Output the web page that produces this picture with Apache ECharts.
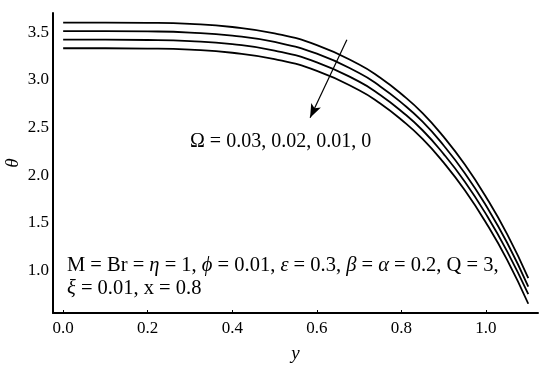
<!DOCTYPE html>
<html>
<head>
<meta charset="utf-8">
<script src="https://cdn.jsdelivr.net/npm/echarts@6/dist/echarts.min.js"></script>
<style>
  html, body { margin: 0; padding: 0; background: #fff; }
  #main { width: 550px; height: 368px; }
</style>
</head>
<body>
<div id="main"></div>
<script>
let mychart = echarts.init(document.getElementById('main'));

let yVals = [0, 0.1, 0.2, 0.3, 0.4, 0.5, 0.6, 0.7, 0.75, 0.8, 0.85, 0.9, 0.95, 1.0, 1.05, 1.1]

// theta for each Omega (top curve = 0.03)
let omega003 = [3.60, 3.60, 3.597, 3.585, 3.553, 3.486, 3.363, 3.16, 3.02, 2.85, 2.65, 2.40, 2.11, 1.77, 1.38, 0.92]
let omega002 = [3.51, 3.51, 3.507, 3.495, 3.463, 3.396, 3.273, 3.07, 2.93, 2.76, 2.56, 2.31, 2.02, 1.68, 1.29, 0.83]
let omega001 = [3.42, 3.42, 3.417, 3.405, 3.373, 3.306, 3.183, 2.98, 2.84, 2.67, 2.47, 2.22, 1.93, 1.59, 1.20, 0.75]
let omega000 = [3.33, 3.33, 3.327, 3.315, 3.283, 3.216, 3.093, 2.89, 2.75, 2.58, 2.38, 2.13, 1.84, 1.50, 1.11, 0.65]

let omegaNames = ['0.03', '0.02', '0.01', '0']
let omegaSets = [omega003, omega002, omega001, omega000]

// arrow across the curves (data coords)
let arrowFrom = [0.671, 3.42]
let arrowTo = [0.584, 2.60]

let serif = 'Liberation Serif'

function pairs(vals) {
    return yVals.map(function (y, i) { return [y, vals[i]] })
}

let series = omegaSets.map(function (vals, k) {
    return {
        name: 'Ω = ' + omegaNames[k],
        type: 'line',
        data: pairs(vals),
        smooth: true,
        showSymbol: false,
        silent: true,
        lineStyle: { color: '#000', width: 1.8 }
    }
})

// arrow
series.push({
    type: 'line',
    data: [],
    silent: true,
    markLine: {
        silent: true,
        symbol: ['none', 'arrow'],
        symbolSize: [8, 14],
        label: { show: false },
        lineStyle: { color: '#000', width: 1.2, type: 'solid' },
        data: [[{ coord: arrowFrom }, { coord: arrowTo }]]
    }
})

let option = {
    animation: false,
    backgroundColor: '#fff',
    grid: { left: 53, right: 12, top: 13, bottom: 55, containLabel: false, outerBoundsMode: 'none' },
    xAxis: {
        type: 'value',
        min: -0.024,
        max: 1.123,
        splitNumber: 5,
        name: 'y',
        nameLocation: 'middle',
        nameGap: 31,
        nameTextStyle: { fontFamily: serif, fontStyle: 'italic', fontSize: 19, color: '#000' },
        axisLine: { onZero: false, lineStyle: { color: '#000', width: 2 } },
        axisTick: { show: true, inside: true, length: 3, lineStyle: { color: '#000' } },
        axisLabel: {
            showMinLabel: false, showMaxLabel: false,
            margin: 7, fontFamily: serif, fontSize: 17, color: '#000',
            formatter: function (v) { return v.toFixed(1) }
        },
        splitLine: { show: false }
    },
    yAxis: {
        type: 'value',
        min: 0.553,
        max: 3.70,
        splitNumber: 6,
        name: 'θ',
        nameLocation: 'middle',
        nameGap: 31,
        nameRotate: 90,
        nameMoveOverlap: false,
        nameTextStyle: { fontFamily: serif, fontStyle: 'italic', fontSize: 19, color: '#000' },
        axisLine: { onZero: false, lineStyle: { color: '#000', width: 2 } },
        axisTick: { show: false },
        axisLabel: {
            showMinLabel: false, showMaxLabel: false,
            margin: 4, fontFamily: serif, fontSize: 17, color: '#000',
            formatter: function (v) { return v.toFixed(1) }
        },
        splitLine: { show: false }
    },
    graphic: [{
        type: 'text',
        left: 190,
        top: 132,
        style: {
            text: 'Ω = 0.03, 0.02, 0.01, 0',
            font: '20px "Liberation Serif"',
            fill: '#000'
        }
    }, {
        type: 'text',
        left: 67,
        top: 254,
        style: {
            text: 'M = Br = {i|η} = 1, {i|ϕ} = 0.01, {i|ε} = 0.3, {i|β} = {i|α} = 0.2, Q = 3,\n{i|ξ} = 0.01, x = 0.8',
            font: '20.5px "Liberation Serif"',
            fill: '#000',
            lineHeight: 23,
            rich: {
                i: { fontStyle: 'italic', fontFamily: serif, fontSize: 20.5, fill: '#000' }
            }
        }
    }],
    series: series
};
mychart.setOption(option);
</script>
</body>
</html>
